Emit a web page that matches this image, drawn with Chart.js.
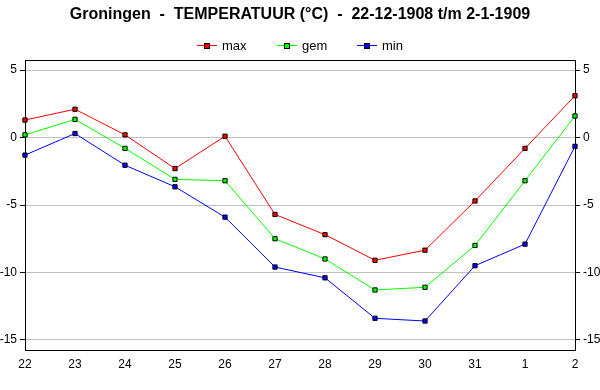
<!DOCTYPE html>
<html>
<head>
<meta charset="utf-8">
<script src="https://cdn.jsdelivr.net/npm/chart.js@4.4.0/dist/chart.umd.min.js"></script>
<style>
  html, body { margin: 0; padding: 0; background: #fff; }
</style>
</head>
<body>
<canvas id="chart" width="600" height="390"></canvas>
<script>
// Groningen, daily temperatures 22-12-1908 t/m 2-1-1909

const days = ['22', '23', '24', '25', '26', '27', '28', '29', '30', '31', '1', '2'];
const maxTemp = [1.3, 2.1, 0.2, -2.3, 0.1, -5.7, -7.2, -9.1, -8.35, -4.7, -0.8, 3.1];
const gemTemp = [0.2, 1.35, -0.8, -3.1, -3.2, -7.5, -9.0, -11.3, -11.1, -8.0, -3.2, 1.6];
const minTemp = [-1.3, 0.3, -2.05, -3.65, -5.9, -9.6, -10.4, -13.4, -13.6, -9.5, -7.9, -0.65];
const yTicks = [-15, -10, -5, 0, 5];
const seriesNames = ['max', 'gem', 'min'];
const seriesColors = ['#ff0000', '#00ff00', '#0000ff'];

const FONT = "'Liberation Sans', Arial, sans-serif";

// draws a closed black frame round the plot area
const framePlugin = {
    id: 'frame',
    beforeDatasetsDraw(chart) {
        const { ctx, chartArea: a } = chart;
        ctx.save();
        ctx.strokeStyle = '#000';
        ctx.lineWidth = 1;
        ctx.strokeRect(Math.round(a.left) + 0.5, Math.round(a.top) + 0.5,
            Math.round(a.right - a.left), Math.round(a.bottom - a.top));
        ctx.restore();
    }
};

// legend as in the original: short line with a square marker, then the name
const legendPlugin = {
    id: 'lineLegend',
    afterDraw(chart) {
        const ctx = chart.ctx;
        const step = 80, lineLen = 20, y = 45;
        ctx.save();
        ctx.font = '13px ' + FONT;
        const lastW = ctx.measureText(chart.data.datasets[2].label).width;
        const total = step * (chart.data.datasets.length - 1) + 25 + lastW;
        let x = Math.round(300 - total / 2);
        chart.data.datasets.forEach(ds => {
            ctx.strokeStyle = ds.borderColor;
            ctx.lineWidth = 1;
            ctx.beginPath();
            ctx.moveTo(x, y + 0.5);
            ctx.lineTo(x + lineLen, y + 0.5);
            ctx.stroke();
            ctx.fillStyle = ds.borderColor;
            ctx.fillRect(x + 8, y - 1, 4, 4);
            ctx.strokeStyle = '#000';
            ctx.strokeRect(x + 7.5, y - 1.5, 5, 5);
            ctx.fillStyle = '#000';
            ctx.textBaseline = 'middle';
            ctx.fillText(ds.label, x + 25, y + 1);
            x += step;
        });
        ctx.restore();
    }
};

function makeSet(i, data) {
    return {
        label: seriesNames[i],
        data: data,
        borderColor: seriesColors[i],
        backgroundColor: seriesColors[i],
        borderWidth: 1,
        pointStyle: 'rect',
        pointRadius: 3,
        pointBorderWidth: 1,
        pointBorderColor: '#000',
        pointBackgroundColor: seriesColors[i],
        tension: 0,
        clip: false
    };
}

function yAxis(position) {
    return {
        position: position,
        min: -15.75,
        max: 5.75,
        afterBuildTicks: s => { s.ticks = yTicks.map(v => ({ value: v })); },
        afterFit: s => { s.width = 25; },
        grid: {
            color: '#c0c0c0',
            tickColor: '#000',
            tickLength: 5,
            drawOnChartArea: position === 'left'
        },
        border: { color: '#000', width: 1 },
        ticks: { font: { family: FONT, size: 12 }, color: '#000', padding: 3 }
    };
}

new Chart(document.getElementById('chart').getContext('2d'), {
    type: 'line',
    data: {
        labels: days,
        datasets: [makeSet(0, maxTemp), makeSet(1, gemTemp), makeSet(2, minTemp)]
    },
    options: {
        responsive: false,
        animation: false,
        layout: { padding: 0 },
        plugins: {
            legend: { display: false },
            tooltip: { enabled: false },
            title: {
                display: true,
                text: 'Groningen  -  TEMPERATUUR (\u00B0C)  -  22-12-1908 t/m 2-1-1909',
                color: '#000',
                font: { family: FONT, size: 16, weight: 'bold', lineHeight: 1.2 },
                padding: { top: 5, bottom: 35.8 }
            }
        },
        scales: {
            x: {
                offset: false,
                afterFit: s => { s.height = 40; },
                grid: { drawOnChartArea: false, drawTicks: false },
                border: { color: '#000', width: 1 },
                ticks: { font: { family: FONT, size: 12 }, color: '#000', padding: 7, autoSkip: false, maxRotation: 0 }
            },
            y: yAxis('left'),
            y2: yAxis('right')
        }
    },
    plugins: [framePlugin, legendPlugin]
});
</script>
</body>
</html>
